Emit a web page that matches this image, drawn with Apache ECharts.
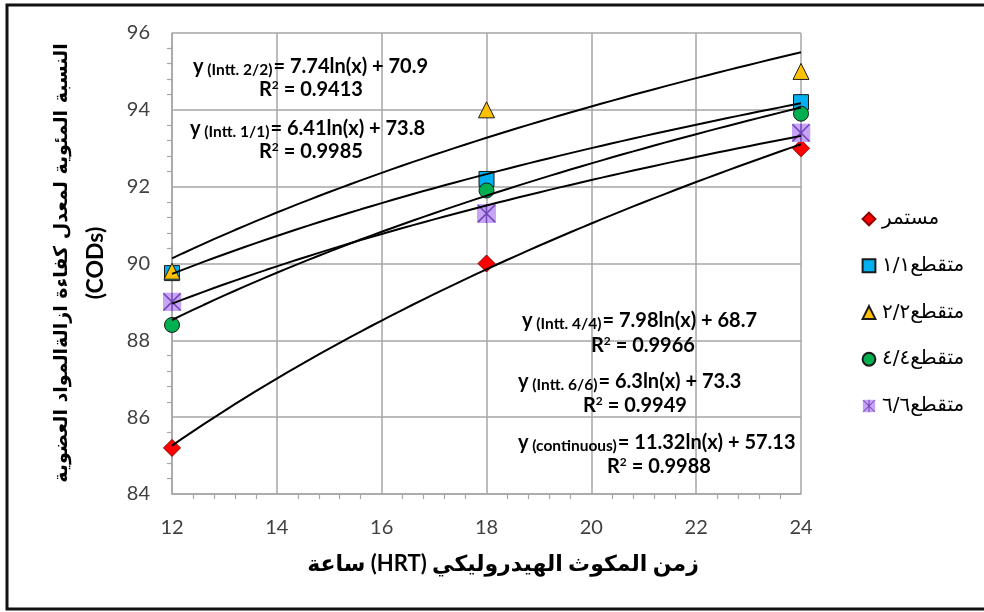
<!DOCTYPE html>
<html>
<head>
<meta charset="utf-8">
<script src="https://cdn.jsdelivr.net/npm/echarts@6/dist/echarts.min.js"></script>
<style>
  html, body { margin: 0; padding: 0; background: #ffffff; }
  #chart { width: 984px; height: 612px; }
</style>
</head>
<body>
<div id="chart"></div>
<script>
// Hydraulic retention time (hours)
const hrt = [12, 18, 24];

// COD removal efficiency (%) per operating mode
const seriesNames = ['مستمر', 'متقطع١/١', 'متقطع٢/٢', 'متقطع٤/٤', 'متقطع٦/٦'];
const continuous = [85.2, 90.0, 93.0];
const intt11 = [89.75, 92.2, 94.2];
const intt22 = [89.8, 94.0, 95.0];
const intt44 = [88.4, 91.9, 93.9];
const intt66 = [89.0, 91.3, 93.4];

// Logarithmic trendlines y = a ln(x) + b
const fitTags = ['continuous', 'Intt. 1/1', 'Intt. 2/2', 'Intt. 4/4', 'Intt. 6/6'];
const fitA = [11.32, 6.41, 7.74, 7.98, 6.3];
const fitB = [57.13, 73.8, 70.9, 68.7, 73.3];
const fitR2 = ['0.9988', '0.9985', '0.9413', '0.9966', '0.9949'];

// Axis ranges
const xTicks = [12, 14, 16, 18, 20, 22, 24];
const yTicks = [84, 86, 88, 90, 92, 94, 96];

const values = [continuous, intt11, intt22, intt44, intt66];

const starSvg =
  '<svg xmlns="http://www.w3.org/2000/svg" width="20" height="20" viewBox="0 0 20 20">' +
  '<rect x="0" y="0" width="20" height="20" fill="#c8a4f4"/>' +
  '<path d="M1,1 L19,19 M19,1 L1,19 M10,0 L10,20" stroke="#6f45b8" stroke-width="1.6" fill="none"/>' +
  '</svg>';

const markers = [
  { symbol: 'diamond', size: 17, color: '#ff0000', border: '#8b0000' },
  { symbol: 'rect', size: 15, color: '#00b0f0', border: '#1a1a1a' },
  { symbol: 'triangle', size: 16, color: '#ffc000', border: '#1a1a1a' },
  { symbol: 'circle', size: 15, color: '#00b050', border: '#1a1a1a' },
  { symbol: 'image://data:image/svg+xml;charset=utf-8,' + encodeURIComponent(starSvg), size: 19, color: '#c8a4f4', border: '#6f45b8' }
];

const numFont = 'Lato, "Open Sans", sans-serif';
const arFont = '"DejaVu Sans", sans-serif';

const series = [];
seriesNames.forEach(function (name, i) {
  series.push({
    name: name,
    type: 'line',
    data: hrt.map(function (h, k) { return [h, values[i][k]]; }),
    lineStyle: { width: 0, opacity: 0 },
    showSymbol: true,
    symbol: markers[i].symbol,
    symbolSize: markers[i].size,
    itemStyle: { color: markers[i].color, borderColor: markers[i].border, borderWidth: 1 },
    z: 3 + i,
    silent: true
  });
});

// Trendline curves sampled along the HRT range
fitA.forEach(function (a, i) {
  const pts = [];
  const x0 = hrt[0], x1 = hrt[hrt.length - 1];
  for (let k = 0; k <= 60; k++) {
    const x = x0 + (x1 - x0) * k / 60;
    pts.push([x, a * Math.log(x) + fitB[i]]);
  }
  series.push({
    name: 'fit-' + fitTags[i],
    type: 'line',
    data: pts,
    showSymbol: false,
    symbol: 'none',
    lineStyle: { color: '#000000', width: 2 },
    z: 10,
    silent: true
  });
});

function eqText(i) {
  return '{y|y}{s| (' + fitTags[i] + ')}{m|= ' + fitA[i] + 'ln(x) + ' + fitB[i] + '}';
}
function r2Text(i) {
  return '{m|R}{p|2}{m| = ' + fitR2[i] + '}';
}
const richStyle = {
  y: { fontSize: 20, fontWeight: 'bold', fontFamily: numFont, color: '#000', lineHeight: 22 },
  s: { fontSize: 15.5, fontWeight: 'bold', fontFamily: numFont, color: '#000', lineHeight: 10, verticalAlign: 'bottom', padding: [0, 1, 0, 0] },
  m: { fontSize: 20, fontWeight: 'bold', fontFamily: numFont, color: '#000', lineHeight: 22 },
  p: { fontSize: 12, fontWeight: 'bold', fontFamily: numFont, color: '#000', lineHeight: 8, verticalAlign: 'top' }
};

// Label placement: [eq x, eq y, R² x, R² y] in fit order
const labelPos = [
  [518, 443, 607, 467],
  [190, 129, 259, 152],
  [193, 67, 259, 90],
  [522, 321, 591, 346],
  [518, 382, 583, 406]
];

const graphics = [
  {
    type: 'rect',
    shape: { x: 7, y: 5, width: 1000, height: 604 },
    style: { fill: 'none', stroke: '#111111', lineWidth: 3 },
    silent: true
  },
  {
    type: 'text',
    x: 79, y: 263,
    rotation: Math.PI / 2,
    style: {
      text: '{a|النسبة المئوية لمعدل كفاءة ازالةالمواد العضوية}\n{c|(CODs)}',
      rich: {
        a: { fontSize: 19, fontWeight: 'bold', fontFamily: arFont, color: '#000', lineHeight: 33, align: 'center' },
        c: { fontSize: 23, fontWeight: 'bold', fontFamily: numFont, color: '#000', lineHeight: 33, align: 'center' }
      },
      align: 'center',
      verticalAlign: 'middle'
    }
  },
  {
    type: 'text',
    x: 503, y: 564,
    style: {
      // runs ordered for the canvas's left-to-right base direction
      text: 'ساعة (HRT) زمن المكوث الهيدروليكي',
      font: 'bold 22px ' + numFont + ', ' + arFont,
      fill: '#000',
      align: 'center',
      verticalAlign: 'middle'
    }
  }
];

labelPos.forEach(function (p, i) {
  graphics.push({
    type: 'text', x: p[0], y: p[1], z: 20,
    style: { text: eqText(i), rich: richStyle, align: 'left', verticalAlign: 'middle' }
  });
  graphics.push({
    type: 'text', x: p[2], y: p[3], z: 20,
    style: { text: r2Text(i), rich: richStyle, align: 'left', verticalAlign: 'middle' }
  });
});

const chart = echarts.init(document.getElementById('chart'), null, { renderer: 'canvas' });
chart.setOption({
  backgroundColor: '#ffffff',
  animation: false,
  grid: { left: 172, right: 183, top: 33, bottom: 118, containLabel: false },
  xAxis: {
    type: 'value',
    min: xTicks[0], max: xTicks[xTicks.length - 1], interval: 2,
    axisLine: { show: true, lineStyle: { color: '#a6a6a6', width: 1.5 } },
    axisTick: { show: false },
    minorTick: { show: true, splitNumber: 5, length: 5, lineStyle: { color: '#a6a6a6', width: 1.2 } },
    splitLine: { show: true, lineStyle: { color: '#a6a6a6', width: 1.5 } },
    axisLabel: { fontSize: 20, color: '#404040', fontFamily: numFont, margin: 24 }
  },
  yAxis: {
    type: 'value',
    min: yTicks[0], max: yTicks[yTicks.length - 1], interval: 2,
    axisLine: { show: true, lineStyle: { color: '#a6a6a6', width: 1.5 } },
    axisTick: { show: false },
    minorTick: { show: true, splitNumber: 5, length: 5, lineStyle: { color: '#a6a6a6', width: 1.2 } },
    splitLine: { show: true, lineStyle: { color: '#a6a6a6', width: 1.5 } },
    axisLabel: { fontSize: 20, color: '#404040', fontFamily: numFont, margin: 22 }
  },
  legend: {
    data: seriesNames,
    orient: 'vertical',
    left: 856, top: 204,
    itemWidth: 16, itemHeight: 16,
    itemGap: 26.75,
    selectedMode: false,
    textStyle: { fontSize: 20, color: '#000', fontFamily: arFont }
  },
  graphic: graphics,
  series: series
});
</script>
</body>
</html>
